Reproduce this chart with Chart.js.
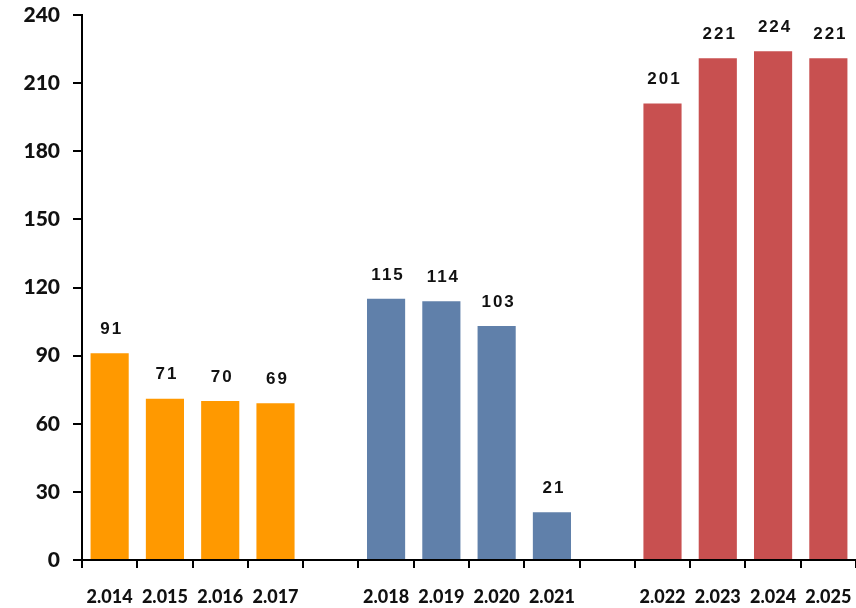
<!DOCTYPE html>
<html>
<head>
<meta charset="utf-8">
<script src="https://cdn.jsdelivr.net/npm/chart.js@4/dist/chart.umd.min.js"></script>
<style>
  html, body { margin: 0; padding: 0; background: #ffffff; }
  #wrap { width: 856px; height: 608px; }
</style>
</head>
<body>
<div id="wrap"><canvas id="myChart" width="856" height="608"></canvas></div>
<script>
"use strict";

/********/
/* data */
/********/
// empty strings are the spacer slots between the three groups
const years = ["2.014", "2.015", "2.016", "2.017", "",
	"2.018", "2.019", "2.020", "2.021", "",
	"2.022", "2.023", "2.024", "2.025"];
const counts = [91, 71, 70, 69, null,
	115, 114, 103, 21, null,
	201, 221, 224, 221];
const yTicks = [0, 30, 60, 90, 120, 150, 180, 210, 240];

/***********/
/* colours */
/***********/
const orange = "#ff9900";
const blue = "#6080aa";
const red = "#c85050";
const barColours = years.map((y, i) => {
	if (i < 4) return orange;
	if (i < 9) return blue;
	return red;
});

/***********/
/* plugins */
/***********/
// writes each bar's value above it
const valueLabels = {
	id: "valueLabels",
	afterDatasetsDraw(chart) {
		const ctx = chart.ctx;
		const meta = chart.getDatasetMeta(0);
		ctx.save();
		ctx.font = "bold 17px 'Liberation Sans', Arial, sans-serif";
		ctx.letterSpacing = "2px";
		ctx.fillStyle = "#111111";
		ctx.textAlign = "center";
		ctx.textBaseline = "middle";
		meta.data.forEach((bar, i) => {
			const v = counts[i];
			if (v === null) return;
			ctx.fillText(String(v), bar.x + 2, bar.y - 24);
		});
		ctx.restore();
	}
};

/*********/
/* chart */
/*********/
const tickFont = { family: "Lato, 'Open Sans', sans-serif", weight: 900 };

new Chart(document.getElementById("myChart").getContext("2d"), {
	type: "bar",
	data: {
		labels: years,
		datasets: [{
			data: counts,
			backgroundColor: barColours,
			borderWidth: 0,
			categoryPercentage: 1,
			barPercentage: 0.69
		}]
	},
	options: {
		responsive: false,
		animation: false,
		layout: { padding: { top: 15, right: 0, bottom: 0, left: 0 } },
		plugins: {
			legend: { display: false },
			tooltip: { enabled: false }
		},
		scales: {
			x: {
				grid: {
					offset: true,
					drawOnChartArea: false,
					color: "#000000",
					lineWidth: 2,
					tickLength: 8
				},
				border: { color: "#000000", width: 2 },
				ticks: {
					color: "#111111",
					font: Object.assign({ size: 18 }, tickFont),
					padding: 18,
					autoSkip: false,
					maxRotation: 0
				},
				afterFit(scale) {
					// fixed height, and let the plot run to the right edge
					scale.height = 48;
					scale.paddingLeft = 0;
					scale.paddingRight = 0;
				}
			},
			y: {
				min: 0,
				max: 240,
				afterBuildTicks(scale) {
					scale.ticks = yTicks.map(v => ({ value: v }));
				},
				grid: {
					drawOnChartArea: false,
					color: "#000000",
					lineWidth: 2,
					tickLength: 9
				},
				border: { color: "#000000", width: 2 },
				ticks: {
					color: "#111111",
					font: Object.assign({ size: 21 }, tickFont),
					padding: 13
				},
				afterFit(scale) {
					scale.width = 82;
					scale.paddingTop = 0;
					scale.paddingBottom = 0;
				}
			}
		}
	},
	plugins: [valueLabels]
});
</script>
</body>
</html>
